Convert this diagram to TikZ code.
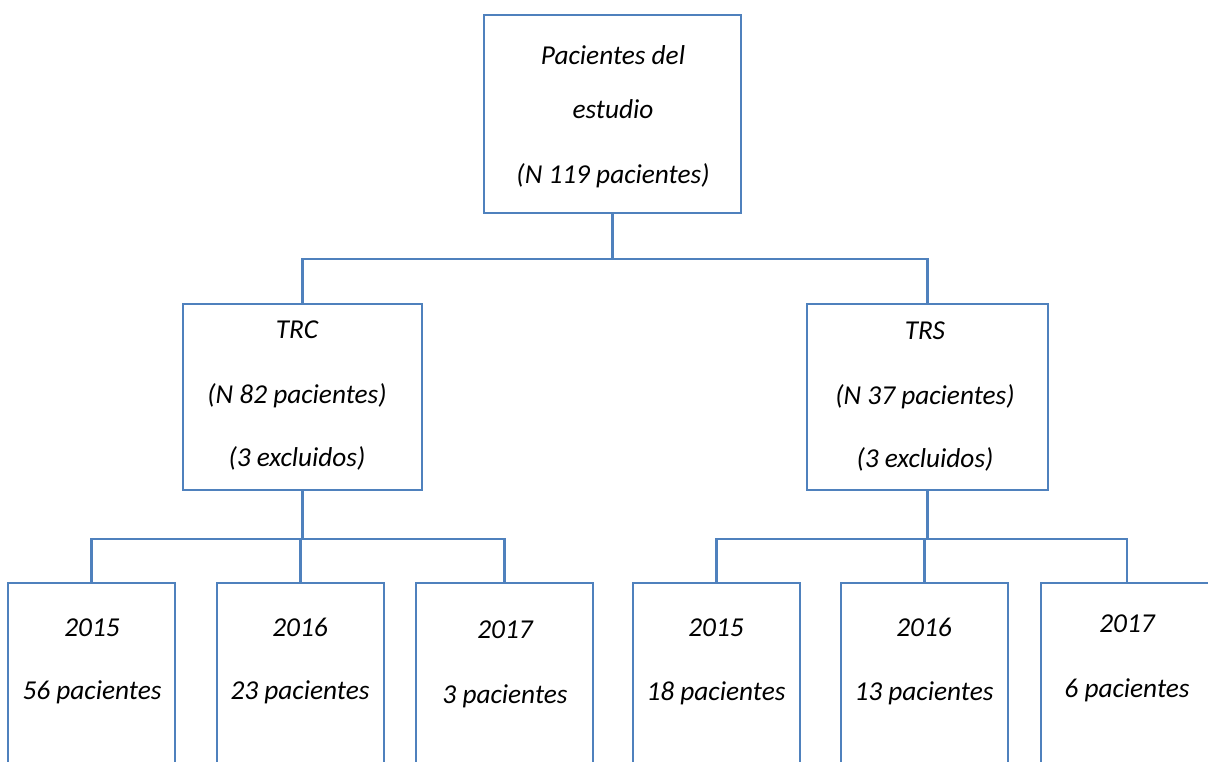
\documentclass[tikz,border=0pt]{standalone}
\usepackage{fontspec}
\setmainfont{Carlito}
\definecolor{officeblue}{HTML}{4F81BD}
\begin{document}
\begin{tikzpicture}[x=1pt,y=-1pt,
  box/.style={draw=officeblue,line width=2.4pt,fill=white,rectangle,inner sep=0pt},
  lbl/.style={anchor=base,inner sep=0pt,font=\fontsize{27.3}{32}\selectfont\itshape},
  link/.style={draw=officeblue,line width=2.4pt}]
\useasboundingbox (0,0) rectangle (1208,762);
\clip (0,0) rectangle (1208,762);
\fill[white] (0,0) rectangle (1208,762);

% boxes
\node[box,minimum width=257pt,minimum height=198pt] (top) at (612.5,114) {};
\node[box,minimum width=239pt,minimum height=186pt] (trc) at (302.5,397) {};
\node[box,minimum width=241pt,minimum height=186pt] (trs) at (927.5,397) {};
\node[box,minimum width=167pt,minimum height=240pt] (c15) at (91.5,703) {};
\node[box,minimum width=167pt,minimum height=240pt] (c16) at (300.5,703) {};
\node[box,minimum width=177pt,minimum height=240pt] (c17) at (504.5,703) {};
\node[box,minimum width=167pt,minimum height=240pt] (s15) at (716.5,703) {};
\node[box,minimum width=167pt,minimum height=240pt] (s16) at (924.5,703) {};
\node[box,minimum width=172pt,minimum height=240pt] (s17) at (1127,703) {};

% connectors
\draw[link] (top.south) -- ++(0,45) coordinate (j0);
\draw[link] (trc.north) |- (j0);
\draw[link] (trs.north) |- (j0);
\draw[link] (trc.south) -- ++(0,48) coordinate (j1);
\draw[link] (c15.north) |- (j1);
\draw[link] (c16.north) |- (j1);
\draw[link] (c17.north) |- (j1);
\draw[link] (trs.south) -- ++(0,48) coordinate (j2);
\draw[link] (s15.north) |- (j2);
\draw[link] (s16.north) |- (j2);
\draw[link] (s17.north) |- (j2);

% labels
\node[lbl] (t1) at (613,65) {Pacientes del};
\node[lbl] (t2) at (613,119) {estudio};
\node[lbl] (t3) at (613,184) {(N 119 pacientes)};

\node[lbl] (a1) at (297,338) {TRC};
\node[lbl] (a2) at (297,403) {(N 82 pacientes)};
\node[lbl] (a3) at (297,466) {(3 excluidos)};

\node[lbl] (b1) at (925,339) {TRS};
\node[lbl] (b2) at (925,404) {(N 37 pacientes)};
\node[lbl] (b3) at (925,467) {(3 excluidos)};

\node[lbl] (c15y) at (92,636) {2015};
\node[lbl] (c15n) at (92,699) {56 pacientes};
\node[lbl] (c16y) at (300,636) {2016};
\node[lbl] (c16n) at (300,699) {23 pacientes};
\node[lbl] (c17y) at (505,638) {2017};
\node[lbl] (c17n) at (505,703) {3 pacientes};

\node[lbl] (s15y) at (716,636) {2015};
\node[lbl] (s15n) at (716,700) {18 pacientes};
\node[lbl] (s16y) at (924,636) {2016};
\node[lbl] (s16n) at (924,700) {13 pacientes};
\node[lbl] (s17y) at (1127,632) {2017};
\node[lbl] (s17n) at (1127,697) {6 pacientes};
\end{tikzpicture}
\end{document}
